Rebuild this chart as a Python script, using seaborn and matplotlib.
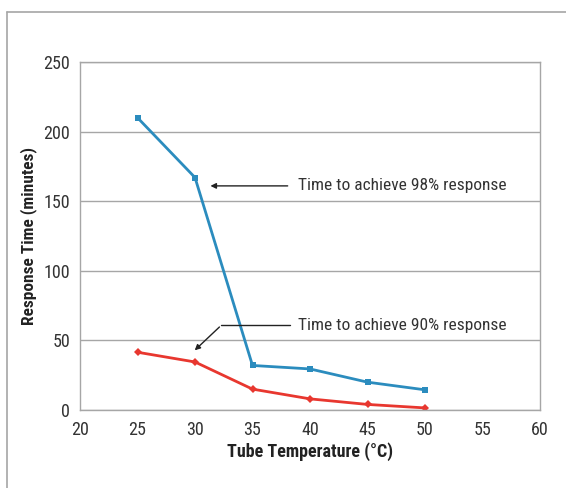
import matplotlib
matplotlib.use("Agg")
import matplotlib.pyplot as plt
import pandas as pd
import seaborn as sns
from matplotlib.lines import Line2D

temps = [25, 30, 35, 40, 45, 50]
resp_98 = [210, 167, 32, 29.5, 20, 14.5]
resp_90 = [41.5, 34.5, 15, 8, 4, 1.5]

label_98 = "Time to achieve 98% response"
label_90 = "Time to achieve 90% response"

df = pd.DataFrame({"temp": temps, "r98": resp_98, "r90": resp_90})

sns.set_style("white")
plt.rcParams["font.family"] = ["Roboto Condensed", "DejaVu Sans"]

fig = plt.figure(figsize=(5.66, 4.88), dpi=100)
ax = fig.add_axes([80 / 566, 1 - 410 / 488, 460 / 566, 348 / 488])

sns.lineplot(data=df, x="temp", y="r98", ax=ax, color="#2b8cbe", linewidth=2,
             marker="s", markersize=5, markeredgewidth=0)
sns.lineplot(data=df, x="temp", y="r90", ax=ax, color="#e8372f", linewidth=2,
             marker="D", markersize=4.5, markeredgewidth=0)

ax.set_xlim(20, 60)
ax.set_ylim(0, 250)
ax.set_xticks(range(20, 61, 5))
ax.set_yticks(range(0, 251, 50))
ax.tick_params(length=0, labelsize=13, colors="#333333", pad=7)
ax.tick_params(axis="x", pad=8)
ax.yaxis.grid(True, color="#a6a6a6", linewidth=1)
ax.set_axisbelow(True)
for s in ax.spines.values():
    s.set_color("#a6a6a6")
    s.set_linewidth(1)

ax.set_xlabel("Tube Temperature (°C)", fontsize=13, fontweight="bold",
              color="#222222", labelpad=2)
ax.set_ylabel("Response Time (minutes)", fontsize=12.5, fontweight="bold",
              color="#222222", labelpad=5)

# annotations
ax.annotate("", xy=(31.1, 161), xytext=(38.3, 161),
            arrowprops=dict(arrowstyle="-|>", color="#222222", lw=1,
                            mutation_scale=8))
ax.text(39.0, 161, label_98, fontsize=12.5, color="#333333", va="center")

ax.plot([32.3, 38.3], [61, 61], color="#222222", lw=1)
ax.annotate("", xy=(29.8, 41.5), xytext=(32.3, 61),
            arrowprops=dict(arrowstyle="-|>", color="#222222", lw=1,
                            mutation_scale=8))
ax.text(39.0, 61, label_90, fontsize=12.5, color="#333333", va="center")

# outer frame (left and top edges)
fig.add_artist(Line2D([7 / 566, 7 / 566], [0, 1 - 11.5 / 488],
                      transform=fig.transFigure, color="#a6a6a6", lw=1.2))
fig.add_artist(Line2D([7 / 566, 1], [1 - 11.5 / 488, 1 - 11.5 / 488],
                      transform=fig.transFigure, color="#a6a6a6", lw=1.2))

fig.savefig("out.png", dpi=100)
